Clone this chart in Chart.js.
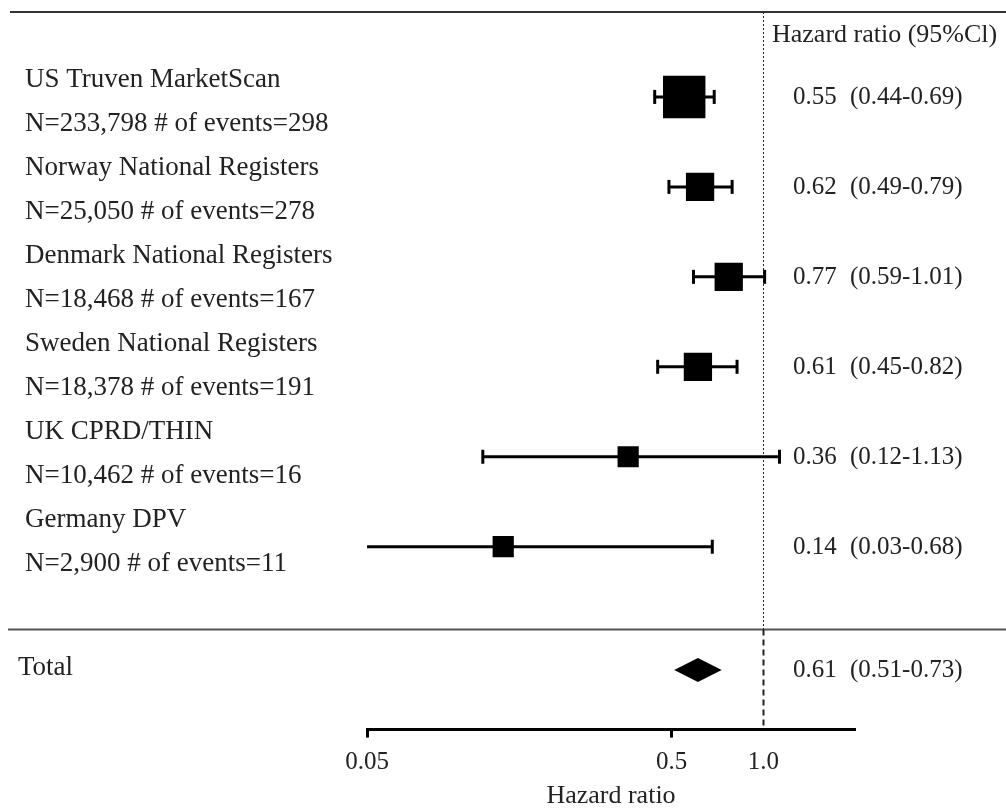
<!DOCTYPE html>
<html>
<head>
<meta charset="utf-8">
<script src="https://cdn.jsdelivr.net/npm/chart.js@4.4.1/dist/chart.umd.min.js"></script>
<style>
  body { margin: 0; background: #fff; }
  canvas { display: block; }
</style>
</head>
<body>
<canvas id="forestChart" width="1006" height="808"></canvas>
<script>
// study rows, top to bottom
var studies = ['US Truven MarketScan', 'Norway National Registers', 'Denmark National Registers',
               'Sweden National Registers', 'UK CPRD/THIN', 'Germany DPV'];
var studyN = ['N=233,798 # of events=298', 'N=25,050 # of events=278', 'N=18,468 # of events=167',
              'N=18,378 # of events=191', 'N=10,462 # of events=16', 'N=2,900 # of events=11'];
var hazard = [0.55, 0.62, 0.77, 0.61, 0.36, 0.14];
var ciLow = [0.44, 0.49, 0.59, 0.45, 0.12, 0.03];
var ciHigh = [0.69, 0.79, 1.01, 0.82, 1.13, 0.68];

// pooled estimate
var totalLabel = 'Total';
var totalHazard = 0.61;
var totalLow = 0.51;
var totalHigh = 0.73;

// x axis
var xTickValues = [0.05, 0.5, 1.0];
var xTickLabels = ['0.05', '0.5', '1.0'];
var refValue = 1.0;
var columnHeader = 'Hazard ratio (95%Cl)';
var axisTitle = 'Hazard ratio';

// look
var boxRadius = [30, 20, 20, 20, 15, 15]; // rect point radius, ~ study weight
var serif = "'Liberation Serif', 'DejaVu Serif', serif";
var textColor = '#222';
var totalRow = 6.37;  // y position of the pooled row (row units)
var sepRow = 5.92;    // separator line above the pooled row

var ctx = document.getElementById('forestChart').getContext('2d');

function fmt(v) { return v.toFixed(2); }

var forestDecor = {
    id: 'forestDecor',
    beforeDatasetsDraw: function (chart) {
        var c = chart.ctx, xs = chart.scales.x, ys = chart.scales.y, area = chart.chartArea;
        c.save();
        // horizontal rules
        c.strokeStyle = '#333';
        c.lineWidth = 2;
        c.beginPath(); c.moveTo(10, area.top); c.lineTo(chart.width, area.top); c.stroke();
        var sepY = ys.getPixelForValue(sepRow);
        c.strokeStyle = '#555';
        c.beginPath(); c.moveTo(8, sepY); c.lineTo(chart.width, sepY); c.stroke();

        // reference line at HR = 1
        var refX = Math.round(xs.getPixelForValue(refValue)) + 0.5;
        c.strokeStyle = '#222';
        c.lineWidth = 1;
        c.setLineDash([2, 2]);
        c.beginPath(); c.moveTo(refX, area.top); c.lineTo(refX, sepY); c.stroke();
        c.lineWidth = 2;
        c.setLineDash([6, 4]);
        c.beginPath(); c.moveTo(refX, sepY); c.lineTo(refX, area.bottom); c.stroke();
        c.setLineDash([]);

        // confidence intervals
        c.strokeStyle = '#000';
        c.lineWidth = 3;
        for (var i = 0; i < hazard.length; i++) {
            var y = ys.getPixelForValue(i);
            var lo = Math.max(ciLow[i], xs.min);
            var x1 = xs.getPixelForValue(lo);
            var x2 = xs.getPixelForValue(Math.min(ciHigh[i], xs.max));
            c.beginPath(); c.moveTo(x1, y); c.lineTo(x2, y); c.stroke();
            if (ciLow[i] >= xs.min) {
                c.beginPath(); c.moveTo(x1, y - 7); c.lineTo(x1, y + 7); c.stroke();
            }
            if (ciHigh[i] <= xs.max) {
                c.beginPath(); c.moveTo(x2, y - 7); c.lineTo(x2, y + 7); c.stroke();
            }
        }
        c.restore();
    },
    afterDatasetsDraw: function (chart) {
        var c = chart.ctx, xs = chart.scales.x, ys = chart.scales.y;
        var y = ys.getPixelForValue(totalRow);
        c.save();
        c.fillStyle = '#000';
        c.beginPath();
        c.moveTo(xs.getPixelForValue(totalLow), y);
        c.lineTo(xs.getPixelForValue(totalHazard), y - 12);
        c.lineTo(xs.getPixelForValue(totalHigh), y);
        c.lineTo(xs.getPixelForValue(totalHazard), y + 12);
        c.closePath();
        c.fill();
        c.restore();
    },
    afterDraw: function (chart) {
        var c = chart.ctx, ys = chart.scales.y;
        c.save();
        c.fillStyle = textColor;
        c.textBaseline = 'middle';
        c.textAlign = 'left';

        // left column: study name + counts
        c.font = '27px ' + serif;
        for (var i = 0; i < studies.length; i++) {
            c.fillText(studies[i], 25, 80 + 88 * i);
            c.fillText(studyN[i], 25, 124 + 88 * i);
        }
        c.fillText(totalLabel, 18, ys.getPixelForValue(totalRow) - 2);

        // right column: HR (95% CI)
        c.font = '26px ' + serif;
        c.fillText(columnHeader, 772, 35);
        c.font = '25px ' + serif;
        for (var j = 0; j < hazard.length; j++) {
            var y = ys.getPixelForValue(j) + 1;
            c.fillText(fmt(hazard[j]), 793, y);
            c.fillText('(' + fmt(ciLow[j]) + '-' + fmt(ciHigh[j]) + ')', 850, y);
        }
        var ty = ys.getPixelForValue(totalRow);
        c.fillText(fmt(totalHazard), 793, ty);
        c.fillText('(' + fmt(totalLow) + '-' + fmt(totalHigh) + ')', 850, ty);
        c.restore();
    }
};

var chart = new Chart(ctx, {
    type: 'scatter',
    data: {
        datasets: [{
            label: 'Hazard ratio',
            data: hazard.map(function (v, i) { return { x: v, y: i }; }),
            pointStyle: 'rect',
            pointRadius: boxRadius,
            backgroundColor: '#000',
            borderWidth: 0
        }]
    },
    options: {
        responsive: false,
        animation: false,
        events: [],
        layout: {
            autoPadding: false,
            padding: { left: 367, right: 151, top: 12, bottom: 0 }
        },
        plugins: {
            legend: { display: false },
            tooltip: { enabled: false }
        },
        scales: {
            x: {
                type: 'logarithmic',
                min: 0.05,
                max: 2,
                afterBuildTicks: function (axis) {
                    axis.ticks = xTickValues.map(function (v) { return { value: v }; });
                },
                ticks: {
                    autoSkip: false,
                    maxRotation: 0,
                    padding: 12,
                    color: textColor,
                    font: { family: serif, size: 25, lineHeight: 1.0 },
                    callback: function (value) {
                        var k = xTickValues.indexOf(value);
                        return k >= 0 ? xTickLabels[k] : '';
                    }
                },
                grid: {
                    drawOnChartArea: false,
                    tickLength: 8,
                    tickWidth: 3,
                    tickColor: function (c) {
                        return c.tick && c.tick.value === refValue ? 'rgba(0,0,0,0)' : '#000';
                    }
                },
                border: { display: true, color: '#000', width: 3 },
                title: {
                    display: true,
                    text: axisTitle,
                    color: textColor,
                    font: { family: serif, size: 26, lineHeight: 0.9 },
                    padding: { top: -2, bottom: 0 }
                }
            },
            y: {
                type: 'linear',
                display: false,
                reverse: true,
                min: -0.944,
                max: 7.033
            }
        }
    },
    plugins: [forestDecor]
});
</script>
</body>
</html>
